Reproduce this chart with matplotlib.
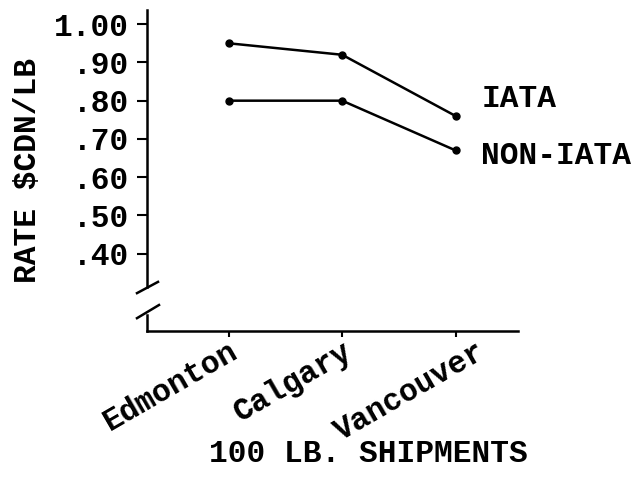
import matplotlib
matplotlib.use("Agg")
import matplotlib.pyplot as plt
import matplotlib.transforms as mtransforms

# data
cities = ['Edmonton', 'Calgary', 'Vancouver']
iata = [0.95, 0.92, 0.76]
non_iata = [0.80, 0.80, 0.67]
ytick_vals = [1.00, 0.90, 0.80, 0.70, 0.60, 0.50, 0.40]
ytick_labels = ['1.00', '.90', '.80', '.70', '.60', '.50', '.40']

plt.rcParams['font.family'] = ['Liberation Mono', 'DejaVu Sans Mono']
plt.rcParams['font.weight'] = 'bold'
plt.rcParams['axes.labelweight'] = 'bold'
FS = 22.5

fig = plt.figure(figsize=(6.38, 4.78), dpi=100)
ax = fig.add_axes([147/638, 1 - 331/478, 371/638, 321/478])

x = list(range(len(cities)))
lw = 1.8
ax.plot(x, iata, color='black', lw=lw, marker='o', ms=5)
ax.plot(x, non_iata, color='black', lw=lw, marker='o', ms=5)

ax.set_xlim(-0.72, 2.55)
ax.set_ylim(0.198, 1.037)

# axes / spines
for s in ['top', 'right']:
    ax.spines[s].set_visible(False)
for s in ['left', 'bottom']:
    ax.spines[s].set_linewidth(lw)
ax.spines['left'].set_bounds(0.313, 1.037)

# broken y axis: lower stub plus two slanted marks
ax.plot([0, 0], [0, 0.05], color='black', lw=lw, transform=ax.transAxes, clip_on=False)
ax.plot([-10/371, 11/371], [0.118, 0.153], color='black', lw=lw,
        transform=ax.transAxes, clip_on=False)
ax.plot([-10/371, 12/371], [0.040, 0.081], color='black', lw=lw,
        transform=ax.transAxes, clip_on=False)

ax.set_yticks(ytick_vals)
ax.set_yticklabels(ytick_labels, fontsize=FS)
ax.tick_params(axis='y', direction='out', length=7, width=1.5, pad=6)

ax.set_xticks(x)
ax.set_xticklabels(cities, fontsize=FS, rotation=30, ha='right', va='top',
                   rotation_mode='anchor')
ax.tick_params(axis='x', direction='out', length=4, width=1.5, pad=0)
# the Vancouver label sits further right on the original
lab = ax.get_xticklabels()[2]
lab.set_transform(lab.get_transform() +
                  mtransforms.ScaledTranslation(20/100, 0, fig.dpi_scale_trans))

ax.set_xlabel('100 LB. SHIPMENTS', fontsize=FS)
ax.xaxis.set_label_coords(0.596, -0.335)
ax.set_ylabel('RATE $CDN/LB', fontsize=FS)
ax.yaxis.set_label_coords(-0.28, 0.50)

# line labels at the right end
ax.annotate('IATA', (x[-1], iata[-1]), xytext=(19, 12), textcoords='offset points',
            fontsize=FS, ha='left', va='center')
ax.annotate('NON-IATA', (x[-1], non_iata[-1]), xytext=(18, -4), textcoords='offset points',
            fontsize=FS, ha='left', va='center')

fig.savefig('out.png', dpi=100)
